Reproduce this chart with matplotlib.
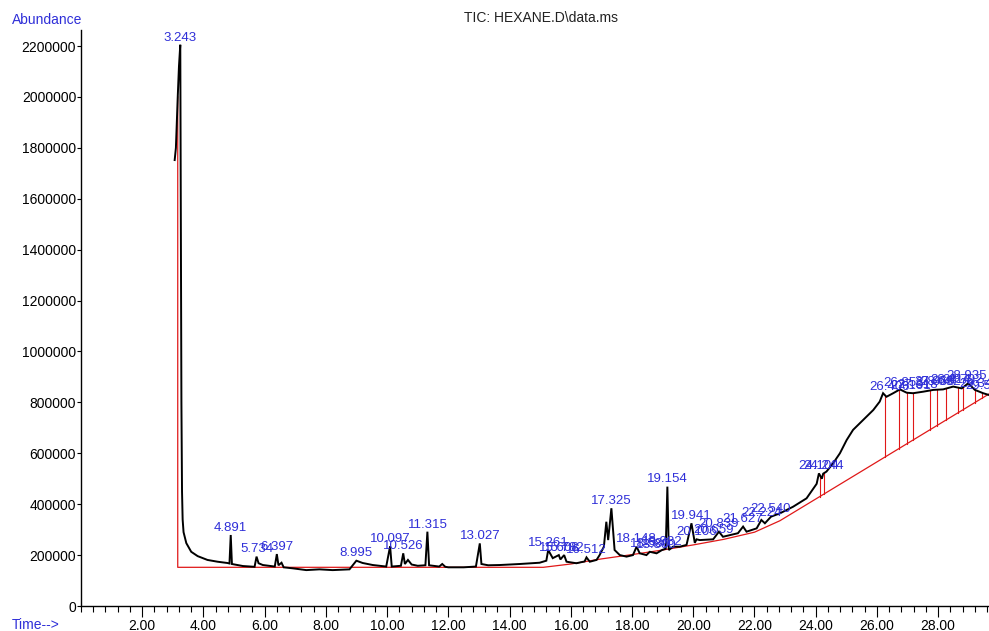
import numpy as np
import matplotlib
matplotlib.use("Agg")
import matplotlib.pyplot as plt
from matplotlib.ticker import MultipleLocator, FixedLocator

plt.rcParams['font.family'] = ['Liberation Sans', 'DejaVu Sans']

# ---- TIC trace (time in min, abundance) ----
trace_t = [3.06, 3.10, 3.16, 3.20, 3.243, 3.26, 3.28, 3.30, 3.32, 3.35, 3.44, 3.60, 3.81, 4.13, 4.46, 4.78, 4.85,
           4.891, 4.93, 5.29, 5.67, 5.734, 5.80, 5.94, 6.33, 6.397, 6.45, 6.55, 6.62, 6.92, 7.36, 7.79, 8.22, 8.77,
           8.995, 9.20, 9.53, 9.97, 10.097, 10.15, 10.45, 10.526, 10.58, 10.68, 10.80, 11.00, 11.25, 11.315, 11.37,
           11.70, 11.80, 11.90, 12.00, 12.50, 12.90, 13.027, 13.08, 13.30, 13.68, 14.33, 14.98, 15.20, 15.261,
           15.41, 15.608, 15.66, 15.782, 15.86, 16.18, 16.45, 16.512, 16.62, 16.84, 16.94, 17.08, 17.16, 17.22,
           17.325, 17.43, 17.60, 17.82, 18.03, 18.148, 18.25, 18.47, 18.58, 18.80, 18.98, 19.10, 19.154, 19.20,
           19.34, 19.56, 19.78, 19.941, 20.05, 20.106, 20.21, 20.65, 20.839, 20.97, 21.46, 21.627, 21.74, 22.07,
           22.224, 22.34, 22.540, 22.83, 23.26, 23.70, 24.03, 24.104, 24.20, 24.244, 24.35, 24.57, 24.79, 25.01,
           25.22, 25.55, 25.88, 26.09, 26.20, 26.31, 26.53, 26.75, 26.97, 27.18, 27.51, 27.84, 28.16, 28.49,
           28.77, 28.98, 29.20, 29.47, 29.66]
trace_a = [1752000, 1800000, 2000000, 2120000, 2205000, 1500000, 800000, 450000, 340000, 290000, 247000, 213000,
           196000, 181000, 174000, 169000, 167000,
           279000, 165000, 157000, 154000, 194000, 168000, 161000, 155000, 204000, 160000, 170000, 152000, 148000,
           141000, 144000, 141000, 144000,
           178000, 169000, 161000, 155000, 235000, 155000, 158000, 207000, 165000, 181000, 163000, 158000, 160000,
           292000, 160000,
           155000, 165000, 154000, 152000, 152000, 155000, 246000, 165000, 160000, 161000, 165000, 170000, 178000,
           220000,
           188000, 200000, 183000, 200000, 174000, 168000, 175000, 191000, 174000, 181000, 200000, 233000, 331000,
           259000,
           384000, 220000, 200000, 194000, 200000, 233000, 207000, 200000, 213000, 207000, 220000, 225000, 469000,
           220000,
           233000, 233000, 240000, 325000, 248000, 262000, 259000, 262000, 292000, 272000, 286000, 312000, 292000,
           305000,
           338000, 325000, 351000, 364000, 390000, 423000, 480000, 521000, 500000, 520000, 528000, 561000, 600000,
           652000,
           692000, 731000, 770000, 803000, 836000, 822000, 836000, 851000, 838000, 836000, 842000, 849000, 851000,
           862000,
           855000, 875000, 849000, 836000, 829000]

# ---- integration baseline (red) ----
base_t = [3.16, 3.16, 15.10, 16.0, 17.0, 18.0, 19.0, 20.0, 21.0, 22.0, 22.83, 29.66]
base_a = [2000000, 152000, 152000, 165000, 185000, 202000, 220000, 240000, 262000, 290000, 335000, 833000]

# drop lines (integration boundaries)
drop_t = [24.13, 24.27, 26.27, 26.72, 26.97, 27.18, 27.73, 27.95, 28.27, 28.65, 28.80, 29.20, 29.42]

# peak labels
peak_labels = ["3.243", "4.891", "5.734", "6.397", "8.995", "10.097", "10.526", "11.315", "13.027",
               "15.261", "15.608", "15.782", "16.512", "17.325", "18.148", "18.580", "18.800", "18.982",
               "19.154", "19.941", "20.106", "20.659", "20.839", "21.627", "22.224", "22.540",
               "24.104", "24.244", "26.406", "26.853", "27.101", "27.318", "27.866", "28.092", "28.414",
               "28.792", "28.935", "29.341", "29.562"]

y_ticks = [0, 200000, 400000, 600000, 800000, 1000000, 1200000, 1400000, 1600000, 1800000, 2000000, 2200000]
x_major = [2, 4, 6, 8, 10, 12, 14, 16, 18, 20, 22, 24, 26, 28]

BLUE = '#2f2fd8'
RED = '#e01818'

fig = plt.figure(figsize=(9.89, 6.31), dpi=100)
ax = fig.add_axes([81 / 989, 25 / 631, 1 - 81 / 989, 576 / 631])

ax.plot(trace_t, trace_a, color='black', lw=1.4, zorder=3, solid_joinstyle='miter')
ax.plot(base_t, base_a, color=RED, lw=0.9, zorder=2)

# drop lines from baseline up to trace
for t in drop_t:
    yb = np.interp(t, base_t[2:], base_a[2:])
    yt = np.interp(t, trace_t, trace_a)
    ax.plot([t, t], [yb, yt], color=RED, lw=0.8, zorder=2)

# labels
fine_t = np.linspace(3.0, 29.66, 20000)
fine_a = np.interp(fine_t, trace_t, trace_a)
for lab in peak_labels:
    t = float(lab)
    m = (fine_t > t - 0.03) & (fine_t < t + 0.03)
    yv = fine_a[m].max()
    ax.annotate(lab, (t, yv), xytext=(0, 1), textcoords='offset points', ha='center', va='bottom',
                color=BLUE, fontsize=9.5, zorder=4, annotation_clip=False)

ax.set_xlim(0, 29.66)
ax.set_ylim(0, 2263000)
ax.spines['top'].set_visible(False)
ax.spines['right'].set_visible(False)
ax.spines['left'].set_linewidth(1.0)
ax.spines['bottom'].set_linewidth(1.0)

ax.yaxis.set_major_locator(FixedLocator(y_ticks))
ax.set_yticklabels([str(v) for v in y_ticks])
ax.xaxis.set_major_locator(FixedLocator(x_major))
ax.set_xticklabels(["%.2f" % v for v in x_major])
ax.xaxis.set_minor_locator(MultipleLocator(0.4))
ax.tick_params(axis='y', direction='out', length=3, width=0.8, labelsize=10, pad=0.5, colors='black')
ax.tick_params(axis='x', which='major', direction='out', length=8, width=0.8, labelsize=10, pad=1)
ax.tick_params(axis='x', which='minor', direction='out', length=4, width=0.8)

fig.text(12 / 989, 1 - 20 / 631, "Abundance", color=BLUE, fontsize=10, ha='left', va='center')
fig.text(12 / 989, 1 - 625 / 631, "Time-->", color=BLUE, fontsize=10, ha='left', va='center')
fig.text(541 / 989, 1 - 18 / 631, "TIC: HEXANE.D\\data.ms", color='#222222', fontsize=10, ha='center', va='center')

fig.savefig("out.png", dpi=100)
